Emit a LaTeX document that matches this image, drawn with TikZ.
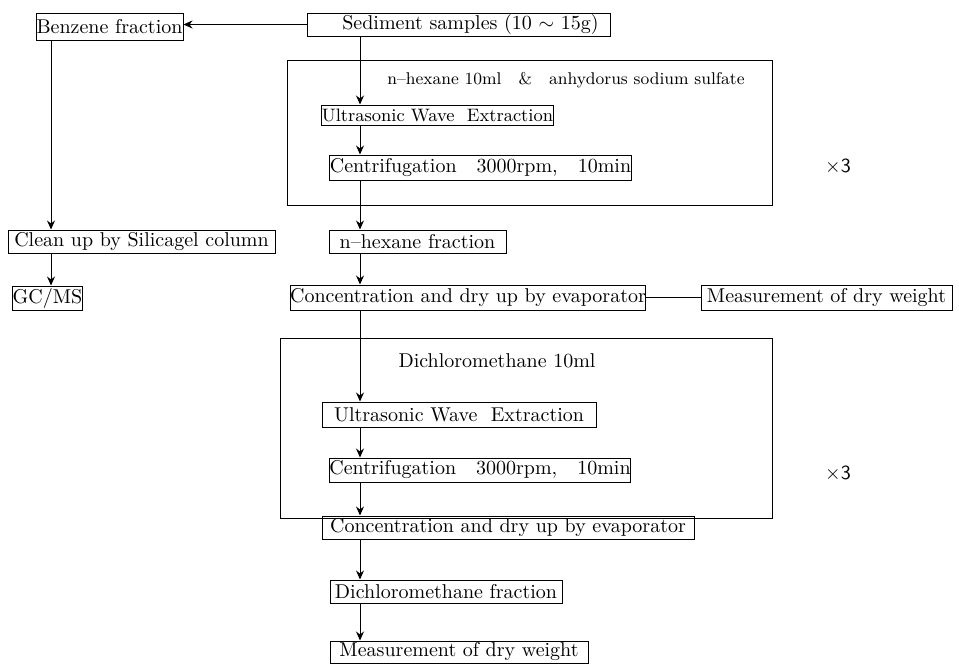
\documentclass[tikz,border=0pt]{standalone}
\usepackage{amsmath,amssymb}
\usetikzlibrary{arrows.meta,positioning,fit}

\tikzset{
  stepbox/.style={draw, line width=0.5pt, inner sep=0pt, minimum height=12pt},
  bw/.style={minimum width=#1*0.5pt},
  frame/.style={draw, line width=0.5pt, inner sep=0pt},
  note/.style={inner sep=0pt},
  flow/.style={->, line width=0.5pt},
}

\begin{document}
\begin{tikzpicture}[x=0.5pt, y=-0.5pt, >={Stealth[length=4.5pt,width=4pt]}]
    \useasboundingbox (0,0) rectangle (959,664);

    % Guide lines for the vertical connectors
    \coordinate (colL) at (51,0);
    \coordinate (spine) at (360,0);

    % Top row
    \node[stepbox, bw=147, minimum height=13.5pt] (benz) at (109.5,26.5) {Benzene fraction};
    \node[stepbox, bw=303, minimum height=11.5pt, text depth=2pt] (sed) at (458.5,24.5) {\hspace{12pt}Sediment samples (10 $\sim$\ 15g)};

    % First extraction loop
    \node[frame, fit={(287,60) (772,205)}] (loop1) {};
    \node[note, font=\fontsize{8.5}{10}\selectfont] (hexadd) at (566,80) {n--hexane 10ml\quad\&\quad anhydorus sodium sulfate};
    \node[stepbox, bw=231, minimum height=10pt, font=\small] (us1) at (437.5,115) {Ultrasonic Wave\ \ Extraction};
    \node[stepbox, bw=301, minimum height=12.5pt] (cf1) at (480.5,167.5) {Centrifugation\quad 3000rpm,\quad 10min};
    \node[note, font=\sffamily] (rep1) at (838,167) {$\times$3};

    % Left branch
    \node[stepbox, bw=267, minimum height=11.5pt] (clean) at (141.5,241.5) {Clean up by Silicagel column};
    \node[stepbox, bw=63, minimum height=12pt] (gcms) at (47.5,298) {GC/MS};

    % n-hexane part
    \node[stepbox, bw=177, minimum height=11.5pt] (hexfr) at (417.5,241.5) {n--hexane fraction};
    \node[stepbox, bw=346, minimum height=12.5pt] (conc1) at (468,297.5) {Concentration and dry up by evaporator};
    \node[stepbox, bw=251, minimum height=12.5pt] (meas1) at (826.5,297.5) {Measurement of dry weight};

    % Second extraction loop
    \node[frame, fit={(280,338) (772,518)}] (loop2) {};
    \node[note] (dcmadd) at (497,361) {Dichloromethane 10ml};
    \node[stepbox, bw=274, minimum height=12.5pt] (us2) at (459,414.5) {Ultrasonic Wave\ \ Extraction};
    \node[stepbox, bw=300, minimum height=12pt] (cf2) at (480,470) {Centrifugation\quad 3000rpm,\quad 10min};
    \node[note, font=\sffamily] (rep2) at (838,474) {$\times$3};

    % Dichloromethane part
    \node[stepbox, bw=372, minimum height=11.5pt] (conc2) at (508,527.5) {Concentration and dry up by evaporator};
    \node[stepbox, bw=232, minimum height=11.5pt] (dcmfr) at (446,591.5) {Dichloromethane fraction};
    \node[stepbox, bw=258, minimum height=11pt] (meas2) at (459,652) {Measurement of dry weight};

    % Connectors
    \draw[flow] (sed.west) -- (benz.east |- sed.west);
    \draw[flow] (benz.south -| colL) -- (clean.north -| colL);
    \draw[flow] (clean.south -| colL) -- (gcms.north -| colL);

    \draw[flow] (sed.south -| spine) -- (us1.north -| spine);
    \draw[flow] (us1.south -| spine) -- (cf1.north -| spine);
    \draw[flow] (cf1.south -| spine) -- (hexfr.north -| spine);
    \draw[flow] (hexfr.south -| spine) -- (conc1.north -| spine);
    \draw[line width=0.5pt] (conc1.east) -- (meas1.west);
    \draw[flow] (conc1.south -| spine) -- (us2.north -| spine);
    \draw[flow] (us2.south -| spine) -- (cf2.north -| spine);
    \draw[flow] (cf2.south -| spine) -- (conc2.north -| spine);
    \draw[flow] (conc2.south -| spine) -- (dcmfr.north -| spine);
    \draw[flow] (dcmfr.south -| spine) -- (meas2.north -| spine);
\end{tikzpicture}
\end{document}
